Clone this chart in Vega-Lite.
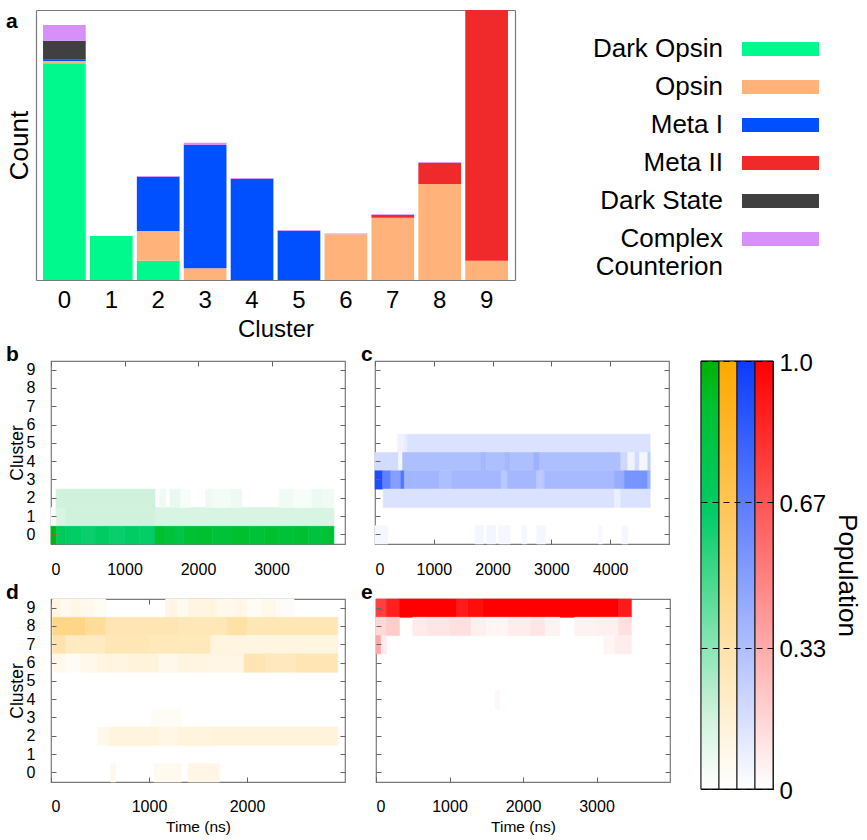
{
  "$schema": "https://vega.github.io/schema/vega-lite/v6.json",
  "background": "white",
  "padding": {"left": 5, "top": 10, "right": 0, "bottom": 0},
  "config": {
    "font": "Liberation Sans",
    "view": {"stroke": "#7a7a7a", "strokeWidth": 1.2},
    "axis": {"domain": false, "grid": false, "tickColor": "#666", "labelColor": "#000", "titleColor": "#000", "titleFontWeight": "normal", "labelFont": "Liberation Sans", "titleFont": "Liberation Sans"},
    "title": {"anchor": "start", "frame": "group", "fontSize": 21, "fontWeight": "bold", "baseline": "alphabetic", "offset": -4, "color": "#000", "font": "Liberation Sans"}
  },
  "spacing": -8,
  "resolve": {"scale": {"color": "independent", "stroke": "independent"}},
  "vconcat": [
    {
      "width": 464,
      "height": 270,
      "view": {"stroke": null},
      "title": {"text": "a", "offset": -22, "dx": -45},
      "data": {"values": [
        {"cluster": 0, "state": "Dark Opsin", "k": 0, "count": 216.7},
        {"cluster": 0, "state": "Opsin", "k": 1, "count": 2.3},
        {"cluster": 0, "state": "Meta I", "k": 2, "count": 1.3},
        {"cluster": 0, "state": "Dark State", "k": 4, "count": 19},
        {"cluster": 0, "state": "Complex Counterion", "k": 5, "count": 15.7},
        {"cluster": 1, "state": "Dark Opsin", "k": 0, "count": 44},
        {"cluster": 2, "state": "Dark Opsin", "k": 0, "count": 19.3},
        {"cluster": 2, "state": "Opsin", "k": 1, "count": 29.7},
        {"cluster": 2, "state": "Meta I", "k": 2, "count": 54.3},
        {"cluster": 2, "state": "Complex Counterion", "k": 5, "count": 0.8},
        {"cluster": 3, "state": "Opsin", "k": 1, "count": 11.7},
        {"cluster": 3, "state": "Meta I", "k": 2, "count": 123.3},
        {"cluster": 3, "state": "Complex Counterion", "k": 5, "count": 2.3},
        {"cluster": 4, "state": "Meta I", "k": 2, "count": 101.3},
        {"cluster": 4, "state": "Complex Counterion", "k": 5, "count": 0.8},
        {"cluster": 5, "state": "Meta I", "k": 2, "count": 49.3},
        {"cluster": 5, "state": "Complex Counterion", "k": 5, "count": 0.7},
        {"cluster": 6, "state": "Opsin", "k": 1, "count": 45.7},
        {"cluster": 6, "state": "Complex Counterion", "k": 5, "count": 0.7},
        {"cluster": 7, "state": "Opsin", "k": 1, "count": 62.3},
        {"cluster": 7, "state": "Meta II", "k": 3, "count": 2.7},
        {"cluster": 7, "state": "Complex Counterion", "k": 5, "count": 0.8},
        {"cluster": 8, "state": "Opsin", "k": 1, "count": 96},
        {"cluster": 8, "state": "Meta II", "k": 3, "count": 21.3},
        {"cluster": 8, "state": "Complex Counterion", "k": 5, "count": 0.7},
        {"cluster": 9, "state": "Opsin", "k": 1, "count": 19.3},
        {"cluster": 9, "state": "Meta II", "k": 3, "count": 250.7}
      ]},
      "layer": [
        {
          "mark": {"type": "bar"},
          "encoding": {
            "x": {"field": "cluster", "type": "ordinal", "scale": {"range": [-15, 464], "paddingInner": 0.09, "paddingOuter": 0.15},
              "axis": {"labelAngle": 0, "labelFontSize": 24, "ticks": false, "labelPadding": 8, "title": "Cluster", "titleFontSize": 24, "titlePadding": 5,
                       "domain": true, "domainColor": "#7a7a7a", "domainWidth": 1.2}},
            "y": {"field": "count", "type": "quantitative", "stack": "zero", "scale": {"domain": [0, 270], "nice": false},
              "axis": {"labels": false, "ticks": false, "title": "Count", "titleFontSize": 26, "titlePadding": 4, "offset": 15,
                       "domain": true, "domainColor": "#7a7a7a", "domainWidth": 1.2}},
            "order": {"field": "k", "type": "quantitative"},
            "color": {"field": "state", "type": "nominal",
              "scale": {"domain": ["Dark Opsin", "Opsin", "Meta I", "Meta II", "Dark State", "Complex Counterion"],
                        "range": ["#00f98c", "#ffb27a", "#0050ff", "#f0292b", "#404040", "#d690f8"]},
              "legend": {"orient": "none", "legendX": 716.5, "legendY": 26, "title": null, "padding": 0, "labelFontSize": 26, "labelColor": "#000",
                "labelAlign": "right", "labelOffset": -70.5, "labelLimit": 500, "symbolType": "M-5.5,-1H5.5V1H-5.5Z", "symbolSize": 196,
                "symbolStrokeWidth": 0, "symbolOpacity": 1, "rowPadding": 12,
                "labelExpr": "datum.label == 'Complex Counterion' ? ['Complex', 'Counterion'] : datum.label"}}
          }
        },
        {
          "mark": {"type": "bar", "opacity": 0},
          "encoding": {
            "x": {"field": "cluster", "type": "ordinal", "scale": {"range": [-15, 464], "paddingInner": 0.09, "paddingOuter": 0.15},
              "axis": {"orient": "top", "labels": false, "ticks": false, "title": null, "domain": true, "domainColor": "#7a7a7a", "domainWidth": 1.2}},
            "y": {"field": "count", "type": "quantitative", "stack": "zero", "scale": {"domain": [0, 270], "nice": false},
              "axis": {"orient": "right", "labels": false, "ticks": false, "title": null, "domain": true, "domainColor": "#7a7a7a", "domainWidth": 1.2}}
          }
        }
      ],
      "resolve": {"axis": {"x": "independent", "y": "independent"}}
    },
    {
      "spacing": 27,
      "resolve": {"scale": {"color": "independent", "stroke": "independent"}},
      "hconcat": [
        {
          "spacing": 2,
          "resolve": {"scale": {"color": "independent", "stroke": "independent"}},
          "vconcat": [
            {
              "spacing": 13,
              "resolve": {"scale": {"color": "independent", "stroke": "independent"}},
              "hconcat": [
                {
                  "width": 294, "height": 183,
                  "title": {"text": "b", "dx": -45},
                  "data": {"values": [
                    {"cluster": 0, "t0": 0, "t1": 70, "pop": 0.97},
                    {"cluster": 0, "t0": 70, "t1": 200, "pop": 0.72},
                    {"cluster": 0, "t0": 200, "t1": 420, "pop": 0.66},
                    {"cluster": 0, "t0": 420, "t1": 600, "pop": 0.63},
                    {"cluster": 0, "t0": 600, "t1": 800, "pop": 0.67},
                    {"cluster": 0, "t0": 800, "t1": 1000, "pop": 0.63},
                    {"cluster": 0, "t0": 1000, "t1": 1200, "pop": 0.66},
                    {"cluster": 0, "t0": 1200, "t1": 1415, "pop": 0.64},
                    {"cluster": 0, "t0": 1415, "t1": 1550, "pop": 0.9},
                    {"cluster": 0, "t0": 1550, "t1": 1700, "pop": 0.85},
                    {"cluster": 0, "t0": 1700, "t1": 1800, "pop": 0.8},
                    {"cluster": 0, "t0": 1800, "t1": 2000, "pop": 0.88},
                    {"cluster": 0, "t0": 2000, "t1": 2200, "pop": 0.9},
                    {"cluster": 0, "t0": 2200, "t1": 2450, "pop": 0.86},
                    {"cluster": 0, "t0": 2450, "t1": 2700, "pop": 0.9},
                    {"cluster": 0, "t0": 2700, "t1": 2900, "pop": 0.86},
                    {"cluster": 0, "t0": 2900, "t1": 3100, "pop": 0.9},
                    {"cluster": 0, "t0": 3100, "t1": 3300, "pop": 0.86},
                    {"cluster": 0, "t0": 3300, "t1": 3500, "pop": 0.89},
                    {"cluster": 0, "t0": 3500, "t1": 3700, "pop": 0.84},
                    {"cluster": 0, "t0": 3700, "t1": 3850, "pop": 0.88},
                    {"cluster": 1, "t0": 0, "t1": 70, "pop": 0.03},
                    {"cluster": 1, "t0": 70, "t1": 200, "pop": 0.14},
                    {"cluster": 1, "t0": 200, "t1": 1415, "pop": 0.17},
                    {"cluster": 1, "t0": 1415, "t1": 3850, "pop": 0.14},
                    {"cluster": 2, "t0": 70, "t1": 1415, "pop": 0.17},
                    {"cluster": 2, "t0": 1480, "t1": 1560, "pop": 0.06},
                    {"cluster": 2, "t0": 1620, "t1": 1760, "pop": 0.08},
                    {"cluster": 2, "t0": 1760, "t1": 1900, "pop": 0.03},
                    {"cluster": 2, "t0": 2100, "t1": 2200, "pop": 0.06},
                    {"cluster": 2, "t0": 2200, "t1": 2450, "pop": 0.04},
                    {"cluster": 2, "t0": 2450, "t1": 2600, "pop": 0.06},
                    {"cluster": 2, "t0": 3100, "t1": 3300, "pop": 0.05},
                    {"cluster": 2, "t0": 3300, "t1": 3550, "pop": 0.03},
                    {"cluster": 2, "t0": 3550, "t1": 3700, "pop": 0.07},
                    {"cluster": 2, "t0": 3700, "t1": 3850, "pop": 0.05}
                  ]},
                  "layer": [
                    {"mark": {"type": "rect", "strokeWidth": 0.6},
                     "encoding": {
                       "x": {"field": "t0", "type": "quantitative", "scale": {"domain": [0, 4000], "nice": false, "zero": false},
                         "axis": {"values": [0, 1000, 2000, 3000], "format": "d", "title": null, "labelFontSize": 16, "labelPadding": 22, "tickSize": -5}},
                       "x2": {"field": "t1"},
                       "y": {"field": "cluster", "type": "ordinal", "scale": {"domain": [9, 8, 7, 6, 5, 4, 3, 2, 1, 0], "paddingInner": 0, "paddingOuter": 0},
                         "axis": {"title": "Cluster", "titleFontSize": 17.5, "titlePadding": 0, "labelFontSize": 16, "labelPadding": 21, "tickSize": -5, "bandPosition": 0.5}},
                       "color": {"field": "pop", "type": "quantitative", "scale": {"domain": [0, 0.17, 0.65, 0.9, 1], "range": ["#ffffff", "#d0f2dc", "#00cc66", "#00c030", "#00b000"], "interpolate": "rgb"}, "legend": null},
                       "stroke": {"field": "pop", "type": "quantitative", "scale": {"domain": [0, 0.17, 0.65, 0.9, 1], "range": ["#ffffff", "#d0f2dc", "#00cc66", "#00c030", "#00b000"], "interpolate": "rgb"}, "legend": null}
                     }},
                    {"mark": {"type": "rect", "opacity": 0},
                     "encoding": {
                       "x": {"field": "t0", "type": "quantitative", "scale": {"domain": [0, 4000], "nice": false, "zero": false},
                         "axis": {"orient": "top", "values": [0, 1000, 2000, 3000], "title": null, "labels": false, "tickSize": -5}},
                       "x2": {"field": "t1"},
                       "y": {"field": "cluster", "type": "ordinal", "scale": {"domain": [9, 8, 7, 6, 5, 4, 3, 2, 1, 0], "paddingInner": 0, "paddingOuter": 0},
                         "axis": {"orient": "right", "title": null, "labels": false, "tickSize": -5, "bandPosition": 0.5}}
                     }}
                  ],
                  "resolve": {"axis": {"x": "independent", "y": "independent"}}
                },
                {
                  "width": 294, "height": 183,
                  "title": {"text": "c", "dx": -14},
                  "data": {"values": [
                    {"cluster": 5, "t0": 385, "t1": 500, "pop": 0.06},
                    {"cluster": 5, "t0": 500, "t1": 555, "pop": 0.1},
                    {"cluster": 5, "t0": 555, "t1": 4680, "pop": 0.15},
                    {"cluster": 4, "t0": 0, "t1": 400, "pop": 0.18},
                    {"cluster": 4, "t0": 400, "t1": 470, "pop": 0.05},
                    {"cluster": 4, "t0": 470, "t1": 1800, "pop": 0.33},
                    {"cluster": 4, "t0": 1800, "t1": 1900, "pop": 0.37},
                    {"cluster": 4, "t0": 1900, "t1": 2200, "pop": 0.33},
                    {"cluster": 4, "t0": 2200, "t1": 2300, "pop": 0.37},
                    {"cluster": 4, "t0": 2300, "t1": 2700, "pop": 0.33},
                    {"cluster": 4, "t0": 2700, "t1": 2800, "pop": 0.4},
                    {"cluster": 4, "t0": 2800, "t1": 4180, "pop": 0.33},
                    {"cluster": 4, "t0": 4180, "t1": 4300, "pop": 0.2},
                    {"cluster": 4, "t0": 4300, "t1": 4420, "pop": 0.06},
                    {"cluster": 4, "t0": 4420, "t1": 4500, "pop": 0.18},
                    {"cluster": 4, "t0": 4500, "t1": 4640, "pop": 0.05},
                    {"cluster": 4, "t0": 4640, "t1": 4680, "pop": 0.25},
                    {"cluster": 3, "t0": 0, "t1": 130, "pop": 0.92},
                    {"cluster": 3, "t0": 130, "t1": 270, "pop": 0.65},
                    {"cluster": 3, "t0": 270, "t1": 440, "pop": 0.5},
                    {"cluster": 3, "t0": 440, "t1": 500, "pop": 0.7},
                    {"cluster": 3, "t0": 500, "t1": 1100, "pop": 0.38},
                    {"cluster": 3, "t0": 1100, "t1": 1300, "pop": 0.33},
                    {"cluster": 3, "t0": 1300, "t1": 2150, "pop": 0.37},
                    {"cluster": 3, "t0": 2150, "t1": 2250, "pop": 0.28},
                    {"cluster": 3, "t0": 2250, "t1": 2750, "pop": 0.37},
                    {"cluster": 3, "t0": 2750, "t1": 2880, "pop": 0.27},
                    {"cluster": 3, "t0": 2880, "t1": 4070, "pop": 0.36},
                    {"cluster": 3, "t0": 4070, "t1": 4240, "pop": 0.42},
                    {"cluster": 3, "t0": 4240, "t1": 4640, "pop": 0.55},
                    {"cluster": 3, "t0": 4640, "t1": 4680, "pop": 0.4},
                    {"cluster": 2, "t0": 140, "t1": 4070, "pop": 0.15},
                    {"cluster": 2, "t0": 4070, "t1": 4180, "pop": 0.08},
                    {"cluster": 2, "t0": 4180, "t1": 4680, "pop": 0.15},
                    {"cluster": 0, "t0": 0, "t1": 220, "pop": 0.04},
                    {"cluster": 0, "t0": 1700, "t1": 1850, "pop": 0.04},
                    {"cluster": 0, "t0": 1900, "t1": 2050, "pop": 0.05},
                    {"cluster": 0, "t0": 2100, "t1": 2300, "pop": 0.04},
                    {"cluster": 0, "t0": 2500, "t1": 2580, "pop": 0.04},
                    {"cluster": 0, "t0": 2750, "t1": 2900, "pop": 0.04},
                    {"cluster": 0, "t0": 3800, "t1": 3870, "pop": 0.03},
                    {"cluster": 0, "t0": 4200, "t1": 4300, "pop": 0.04}
                  ]},
                  "layer": [
                    {"mark": {"type": "rect", "strokeWidth": 0.6},
                     "encoding": {
                       "x": {"field": "t0", "type": "quantitative", "scale": {"domain": [0, 5000], "nice": false, "zero": false},
                         "axis": {"values": [0, 1000, 2000, 3000, 4000], "format": "d", "title": null, "labelFontSize": 16, "labelPadding": 22, "tickSize": -5}},
                       "x2": {"field": "t1"},
                       "y": {"field": "cluster", "type": "ordinal", "scale": {"domain": [9, 8, 7, 6, 5, 4, 3, 2, 1, 0], "paddingInner": 0, "paddingOuter": 0},
                         "axis": {"title": null, "labels": false, "tickSize": -5, "bandPosition": 0.5}},
                       "color": {"field": "pop", "type": "quantitative", "scale": {"domain": [0, 1], "range": ["#ffffff", "#0a3cff"], "interpolate": "rgb"}, "legend": null},
                       "stroke": {"field": "pop", "type": "quantitative", "scale": {"domain": [0, 1], "range": ["#ffffff", "#0a3cff"], "interpolate": "rgb"}, "legend": null}
                     }},
                    {"mark": {"type": "rect", "opacity": 0},
                     "encoding": {
                       "x": {"field": "t0", "type": "quantitative", "scale": {"domain": [0, 5000], "nice": false, "zero": false},
                         "axis": {"orient": "top", "values": [0, 1000, 2000, 3000, 4000], "title": null, "labels": false, "tickSize": -5}},
                       "x2": {"field": "t1"},
                       "y": {"field": "cluster", "type": "ordinal", "scale": {"domain": [9, 8, 7, 6, 5, 4, 3, 2, 1, 0], "paddingInner": 0, "paddingOuter": 0},
                         "axis": {"orient": "right", "title": null, "labels": false, "tickSize": -5, "bandPosition": 0.5}}
                     }}
                  ],
                  "resolve": {"axis": {"x": "independent", "y": "independent"}}
                }
              ]
            },
            {
              "spacing": 13,
              "resolve": {"scale": {"color": "independent", "stroke": "independent"}},
              "hconcat": [
                {
                  "width": 294, "height": 183,
                  "title": {"text": "d", "dx": -45},
                  "data": {"values": [
                    {"cluster": 9, "t0": 17, "t1": 100, "pop": 0.12},
                    {"cluster": 9, "t0": 100, "t1": 200, "pop": 0.06},
                    {"cluster": 9, "t0": 200, "t1": 300, "pop": 0.1},
                    {"cluster": 9, "t0": 300, "t1": 450, "pop": 0.07},
                    {"cluster": 9, "t0": 450, "t1": 560, "pop": 0.04},
                    {"cluster": 9, "t0": 1170, "t1": 1300, "pop": 0.1},
                    {"cluster": 9, "t0": 1300, "t1": 1400, "pop": 0.06},
                    {"cluster": 9, "t0": 1400, "t1": 1700, "pop": 0.12},
                    {"cluster": 9, "t0": 1700, "t1": 1900, "pop": 0.08},
                    {"cluster": 9, "t0": 1900, "t1": 2000, "pop": 0.1},
                    {"cluster": 9, "t0": 2000, "t1": 2150, "pop": 0.04},
                    {"cluster": 9, "t0": 2150, "t1": 2300, "pop": 0.08},
                    {"cluster": 9, "t0": 2300, "t1": 2480, "pop": 0.03},
                    {"cluster": 8, "t0": 17, "t1": 350, "pop": 0.47},
                    {"cluster": 8, "t0": 350, "t1": 560, "pop": 0.4},
                    {"cluster": 8, "t0": 560, "t1": 1300, "pop": 0.3},
                    {"cluster": 8, "t0": 1300, "t1": 1800, "pop": 0.28},
                    {"cluster": 8, "t0": 1800, "t1": 2000, "pop": 0.35},
                    {"cluster": 8, "t0": 2000, "t1": 2925, "pop": 0.29},
                    {"cluster": 7, "t0": 17, "t1": 150, "pop": 0.32},
                    {"cluster": 7, "t0": 150, "t1": 560, "pop": 0.24},
                    {"cluster": 7, "t0": 560, "t1": 1000, "pop": 0.29},
                    {"cluster": 7, "t0": 1000, "t1": 1630, "pop": 0.27},
                    {"cluster": 7, "t0": 1630, "t1": 2925, "pop": 0.12},
                    {"cluster": 6, "t0": 17, "t1": 150, "pop": 0.07},
                    {"cluster": 6, "t0": 150, "t1": 300, "pop": 0.04},
                    {"cluster": 6, "t0": 300, "t1": 475, "pop": 0.08},
                    {"cluster": 6, "t0": 475, "t1": 800, "pop": 0.12},
                    {"cluster": 6, "t0": 800, "t1": 1100, "pop": 0.14},
                    {"cluster": 6, "t0": 1100, "t1": 1300, "pop": 0.08},
                    {"cluster": 6, "t0": 1300, "t1": 1600, "pop": 0.12},
                    {"cluster": 6, "t0": 1600, "t1": 1970, "pop": 0.1},
                    {"cluster": 6, "t0": 1970, "t1": 2200, "pop": 0.3},
                    {"cluster": 6, "t0": 2200, "t1": 2500, "pop": 0.26},
                    {"cluster": 6, "t0": 2500, "t1": 2925, "pop": 0.3},
                    {"cluster": 3, "t0": 1020, "t1": 1330, "pop": 0.04},
                    {"cluster": 2, "t0": 475, "t1": 600, "pop": 0.08},
                    {"cluster": 2, "t0": 600, "t1": 1100, "pop": 0.13},
                    {"cluster": 2, "t0": 1100, "t1": 1300, "pop": 0.1},
                    {"cluster": 2, "t0": 1300, "t1": 1650, "pop": 0.13},
                    {"cluster": 2, "t0": 1650, "t1": 2925, "pop": 0.14},
                    {"cluster": 0, "t0": 610, "t1": 660, "pop": 0.08},
                    {"cluster": 0, "t0": 1050, "t1": 1330, "pop": 0.06},
                    {"cluster": 0, "t0": 1400, "t1": 1720, "pop": 0.1}
                  ]},
                  "layer": [
                    {"mark": {"type": "rect", "strokeWidth": 0.6},
                     "encoding": {
                       "x": {"field": "t0", "type": "quantitative", "scale": {"domain": [0, 3000], "nice": false, "zero": false},
                         "axis": {"values": [0, 1000, 2000], "format": "d", "title": "Time (ns)", "titleFontSize": 15.5, "titlePadding": 5, "labelFontSize": 16, "labelPadding": 21, "tickSize": -5}},
                       "x2": {"field": "t1"},
                       "y": {"field": "cluster", "type": "ordinal", "scale": {"domain": [9, 8, 7, 6, 5, 4, 3, 2, 1, 0], "paddingInner": 0, "paddingOuter": 0},
                         "axis": {"title": "Cluster", "titleFontSize": 17.5, "titlePadding": 0, "labelFontSize": 16, "labelPadding": 21, "tickSize": -5, "bandPosition": 0.5}},
                       "color": {"field": "pop", "type": "quantitative", "scale": {"domain": [0, 1], "range": ["#ffffff", "#ffa800"], "interpolate": "rgb"}, "legend": null},
                       "stroke": {"field": "pop", "type": "quantitative", "scale": {"domain": [0, 1], "range": ["#ffffff", "#ffa800"], "interpolate": "rgb"}, "legend": null}
                     }},
                    {"mark": {"type": "rect", "opacity": 0},
                     "encoding": {
                       "x": {"field": "t0", "type": "quantitative", "scale": {"domain": [0, 3000], "nice": false, "zero": false},
                         "axis": {"orient": "top", "values": [0, 1000, 2000], "title": null, "labels": false, "tickSize": -5}},
                       "x2": {"field": "t1"},
                       "y": {"field": "cluster", "type": "ordinal", "scale": {"domain": [9, 8, 7, 6, 5, 4, 3, 2, 1, 0], "paddingInner": 0, "paddingOuter": 0},
                         "axis": {"orient": "right", "title": null, "labels": false, "tickSize": -5, "bandPosition": 0.5}}
                     }}
                  ],
                  "resolve": {"axis": {"x": "independent", "y": "independent"}}
                },
                {
                  "width": 294, "height": 183,
                  "title": {"text": "e", "dx": -15},
                  "data": {"values": [
                    {"cluster": 9, "t0": 0, "t1": 140, "pop": 0.75},
                    {"cluster": 9, "t0": 140, "t1": 320, "pop": 0.88},
                    {"cluster": 9, "t0": 320, "t1": 1100, "pop": 1},
                    {"cluster": 9, "t0": 1100, "t1": 1250, "pop": 0.9},
                    {"cluster": 9, "t0": 1250, "t1": 1450, "pop": 0.95},
                    {"cluster": 9, "t0": 1450, "t1": 3300, "pop": 1},
                    {"cluster": 9, "t0": 3300, "t1": 3475, "pop": 0.9},
                    {"cluster": 8, "t0": 0, "t1": 140, "pop": 0.15},
                    {"cluster": 8, "t0": 140, "t1": 320, "pop": 0.2},
                    {"cluster": 8, "t0": 500, "t1": 700, "pop": 0.08},
                    {"cluster": 8, "t0": 700, "t1": 1000, "pop": 0.1},
                    {"cluster": 8, "t0": 1000, "t1": 1300, "pop": 0.12},
                    {"cluster": 8, "t0": 1300, "t1": 1500, "pop": 0.06},
                    {"cluster": 8, "t0": 1500, "t1": 1800, "pop": 0.04},
                    {"cluster": 8, "t0": 1800, "t1": 2100, "pop": 0.07},
                    {"cluster": 8, "t0": 2100, "t1": 2300, "pop": 0.1},
                    {"cluster": 8, "t0": 2300, "t1": 2500, "pop": 0.05},
                    {"cluster": 8, "t0": 2700, "t1": 3000, "pop": 0.05},
                    {"cluster": 8, "t0": 3000, "t1": 3300, "pop": 0.06},
                    {"cluster": 8, "t0": 3300, "t1": 3475, "pop": 0.12},
                    {"cluster": 7, "t0": 0, "t1": 70, "pop": 0.35},
                    {"cluster": 7, "t0": 70, "t1": 140, "pop": 0.08},
                    {"cluster": 7, "t0": 3100, "t1": 3250, "pop": 0.04},
                    {"cluster": 7, "t0": 3250, "t1": 3475, "pop": 0.07},
                    {"cluster": 4, "t0": 1620, "t1": 1680, "pop": 0.03}
                  ]},
                  "layer": [
                    {"mark": {"type": "rect", "strokeWidth": 0.6},
                     "encoding": {
                       "x": {"field": "t0", "type": "quantitative", "scale": {"domain": [0, 4000], "nice": false, "zero": false},
                         "axis": {"values": [0, 1000, 2000, 3000], "format": "d", "title": "Time (ns)", "titleFontSize": 15.5, "titlePadding": 5, "labelFontSize": 16, "labelPadding": 21, "tickSize": -5}},
                       "x2": {"field": "t1"},
                       "y": {"field": "cluster", "type": "ordinal", "scale": {"domain": [9, 8, 7, 6, 5, 4, 3, 2, 1, 0], "paddingInner": 0, "paddingOuter": 0},
                         "axis": {"title": null, "labels": false, "tickSize": -5, "bandPosition": 0.5}},
                       "color": {"field": "pop", "type": "quantitative", "scale": {"domain": [0, 1], "range": ["#ffffff", "#ff0000"], "interpolate": "rgb"}, "legend": null},
                       "stroke": {"field": "pop", "type": "quantitative", "scale": {"domain": [0, 1], "range": ["#ffffff", "#ff0000"], "interpolate": "rgb"}, "legend": null}
                     }},
                    {"mark": {"type": "rect", "opacity": 0},
                     "encoding": {
                       "x": {"field": "t0", "type": "quantitative", "scale": {"domain": [0, 4000], "nice": false, "zero": false},
                         "axis": {"orient": "top", "values": [0, 1000, 2000, 3000], "title": null, "labels": false, "tickSize": -5}},
                       "x2": {"field": "t1"},
                       "y": {"field": "cluster", "type": "ordinal", "scale": {"domain": [9, 8, 7, 6, 5, 4, 3, 2, 1, 0], "paddingInner": 0, "paddingOuter": 0},
                         "axis": {"orient": "right", "title": null, "labels": false, "tickSize": -5, "bandPosition": 0.5}}
                     }}
                  ],
                  "resolve": {"axis": {"x": "independent", "y": "independent"}}
                }
              ]
            }
          ]
        },
        {
          "width": 72, "height": 428,
          "title": {"text": " "},
          "view": {"stroke": "#222", "strokeWidth": 1.2},
          "data": {"values": [
            {"state": "Dark Opsin", "lo": 0, "hi": 1},
            {"state": "Opsin", "lo": 0, "hi": 1},
            {"state": "Meta I", "lo": 0, "hi": 1},
            {"state": "Meta II", "lo": 0, "hi": 1}
          ]},
          "encoding": {
            "x": {"field": "state", "type": "nominal", "scale": {"domain": ["Dark Opsin", "Opsin", "Meta I", "Meta II"], "paddingInner": 0, "paddingOuter": 0}, "axis": null},
            "y": {"field": "lo", "type": "quantitative", "scale": {"domain": [0, 1], "nice": false, "zero": false},
              "axis": {"orient": "right", "values": [0, 0.33, 0.67, 1], "labelExpr": "datum.value == 1 ? '1.0' : datum.value == 0 ? '0' : format(datum.value, '.2f')",
                "labelFontSize": 24, "labelFlush": false, "ticks": false, "labelPadding": 6, "labelOffset": 2, "grid": true, "gridColor": "#000", "gridDash": [6, 5], "gridWidth": 1, "zindex": 1,
                "title": "Population", "titleFontSize": 26, "titleAngle": 90, "titlePadding": 8}},
            "y2": {"field": "hi"}
          },
          "layer": [
            {"transform": [{"filter": "datum.state == 'Dark Opsin'"}],
             "mark": {"type": "rect", "stroke": "#111", "strokeWidth": 1,
               "fill": {"gradient": "linear", "x1": 0, "y1": 1, "x2": 0, "y2": 0, "stops": [
                 {"offset": 0, "color": "#ffffff"}, {"offset": 0.17, "color": "#d0f2dc"}, {"offset": 0.65, "color": "#00cc66"}, {"offset": 0.9, "color": "#00c030"}, {"offset": 1, "color": "#00b000"}]}}},
            {"transform": [{"filter": "datum.state == 'Opsin'"}],
             "mark": {"type": "rect", "stroke": "#111", "strokeWidth": 1,
               "fill": {"gradient": "linear", "x1": 0, "y1": 1, "x2": 0, "y2": 0, "stops": [
                 {"offset": 0, "color": "#ffffff"}, {"offset": 1, "color": "#ffa800"}]}}},
            {"transform": [{"filter": "datum.state == 'Meta I'"}],
             "mark": {"type": "rect", "stroke": "#111", "strokeWidth": 1,
               "fill": {"gradient": "linear", "x1": 0, "y1": 1, "x2": 0, "y2": 0, "stops": [
                 {"offset": 0, "color": "#ffffff"}, {"offset": 1, "color": "#0a3cff"}]}}},
            {"transform": [{"filter": "datum.state == 'Meta II'"}],
             "mark": {"type": "rect", "stroke": "#111", "strokeWidth": 1,
               "fill": {"gradient": "linear", "x1": 0, "y1": 1, "x2": 0, "y2": 0, "stops": [
                 {"offset": 0, "color": "#ffffff"}, {"offset": 1, "color": "#ff0000"}]}}}
          ]
        }
      ]
    }
  ]
}
